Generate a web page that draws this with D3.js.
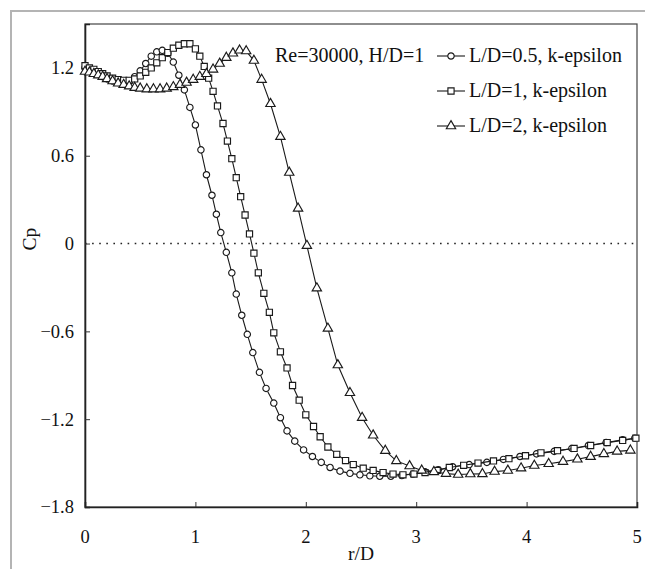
<!DOCTYPE html>
<html lang="en">
<head>
<meta charset="utf-8">
<title>Cp vs r/D</title>
<script src="https://cdn.jsdelivr.net/npm/d3@7"></script>
<style>
    body {
        margin: 0;
        background-color: #ffffff;
    }
    svg text {
        font-family: "Liberation Serif", "Times New Roman", serif;
        fill: #111;
    }
    .series path.line {
        fill: none;
        stroke: #1a1a1a;
        stroke-width: 1.1;
    }
    .mark {
        fill: #fff;
        stroke: #1a1a1a;
        stroke-width: 1.15;
    }
</style>
</head>
<body>
<svg id="chart" width="645" height="569"></svg>
<script>
// r/D , Cp
var circleData = [
  [0, 1.20], [0.04, 1.19], [0.08, 1.18], [0.12, 1.16], [0.16, 1.14], [0.2, 1.125],
  [0.25, 1.11], [0.3, 1.10], [0.35, 1.10], [0.4, 1.11], [0.45, 1.14], [0.5, 1.18],
  [0.55, 1.23], [0.6, 1.28], [0.65, 1.31], [0.7, 1.32], [0.75, 1.30], [0.8, 1.24],
  [0.85, 1.15], [0.9, 1.05], [0.95, 0.93], [1.0, 0.81], [1.05, 0.64], [1.1, 0.47],
  [1.15, 0.33], [1.19, 0.20], [1.23, 0.075], [1.28, -0.06], [1.33, -0.20], [1.37, -0.345],
  [1.42, -0.49], [1.47, -0.62], [1.52, -0.745], [1.58, -0.88], [1.64, -0.99], [1.71, -1.09],
  [1.77, -1.19], [1.83, -1.28], [1.9, -1.35], [1.98, -1.41], [2.06, -1.455], [2.14, -1.495],
  [2.22, -1.53], [2.31, -1.555], [2.4, -1.57], [2.49, -1.58], [2.58, -1.587], [2.67, -1.59],
  [2.77, -1.59], [2.87, -1.585], [2.97, -1.575], [3.08, -1.56], [3.2, -1.545], [3.33, -1.525],
  [3.48, -1.51], [3.64, -1.495], [3.79, -1.475], [3.94, -1.455], [4.09, -1.437], [4.25, -1.42],
  [4.41, -1.40], [4.56, -1.38], [4.72, -1.36], [4.87, -1.34], [4.98, -1.33]
];

var squareData = [
  [0, 1.215], [0.04, 1.20], [0.08, 1.19], [0.12, 1.175], [0.16, 1.16], [0.2, 1.145],
  [0.25, 1.13], [0.3, 1.12], [0.35, 1.115], [0.4, 1.115], [0.45, 1.125], [0.5, 1.145],
  [0.55, 1.17], [0.6, 1.20], [0.65, 1.235], [0.7, 1.27], [0.75, 1.305], [0.8, 1.335],
  [0.85, 1.355], [0.9, 1.365], [0.95, 1.365], [1.0, 1.33], [1.04, 1.28], [1.08, 1.21],
  [1.12, 1.13], [1.16, 1.04], [1.2, 0.94], [1.25, 0.82], [1.29, 0.70], [1.33, 0.58],
  [1.37, 0.45], [1.41, 0.32], [1.45, 0.195], [1.49, 0.066], [1.53, -0.066], [1.57, -0.20],
  [1.62, -0.34], [1.67, -0.47], [1.71, -0.61], [1.77, -0.74], [1.83, -0.85], [1.88, -0.97],
  [1.94, -1.07], [2.0, -1.17], [2.07, -1.25], [2.13, -1.32], [2.2, -1.39], [2.28, -1.44],
  [2.36, -1.483], [2.43, -1.51], [2.52, -1.535], [2.61, -1.55], [2.7, -1.565], [2.79, -1.575],
  [2.88, -1.58], [2.98, -1.575], [3.08, -1.565], [3.19, -1.55], [3.3, -1.53], [3.43, -1.515],
  [3.56, -1.50], [3.7, -1.485], [3.84, -1.47], [3.99, -1.45], [4.13, -1.43], [4.28, -1.415],
  [4.43, -1.40], [4.58, -1.38], [4.73, -1.36], [4.87, -1.345], [4.99, -1.33]
];

var triangleData = [
  [0, 1.175], [0.04, 1.17], [0.08, 1.16], [0.12, 1.15], [0.16, 1.14], [0.2, 1.125],
  [0.25, 1.11], [0.3, 1.095], [0.35, 1.085], [0.4, 1.075], [0.45, 1.065], [0.5, 1.06],
  [0.56, 1.055], [0.62, 1.055], [0.68, 1.055], [0.74, 1.06], [0.8, 1.07], [0.86, 1.085],
  [0.92, 1.10], [0.98, 1.12], [1.04, 1.14], [1.1, 1.16], [1.16, 1.19], [1.22, 1.23],
  [1.28, 1.27], [1.34, 1.30], [1.4, 1.32], [1.46, 1.315], [1.53, 1.25], [1.6, 1.12],
  [1.68, 0.955], [1.77, 0.73], [1.85, 0.485], [1.93, 0.24], [2.01, -0.015], [2.1, -0.305],
  [2.2, -0.58], [2.29, -0.83], [2.4, -1.02], [2.51, -1.19], [2.61, -1.31], [2.72, -1.415],
  [2.82, -1.485], [2.94, -1.52], [3.05, -1.55], [3.16, -1.56], [3.27, -1.572], [3.38, -1.578],
  [3.49, -1.575], [3.6, -1.574], [3.71, -1.558], [3.83, -1.551], [3.95, -1.535], [4.07, -1.517],
  [4.2, -1.505], [4.33, -1.49], [4.46, -1.474], [4.58, -1.456], [4.7, -1.437], [4.82, -1.42],
  [4.94, -1.413]
];

var seriesNames = ["L/D=0.5, k-epsilon", "L/D=1, k-epsilon", "L/D=2, k-epsilon"];
var seriesSymbols = ["circle", "square", "triangle"];
var xTicks = [0, 1, 2, 3, 4, 5];
var yTicks = [-1.8, -1.2, -0.6, 0, 0.6, 1.2];
var noteText = "Re=30000, H/D=1";

var svg = d3.select("#chart");

// outer frame of the original figure
svg.append("rect")
    .attr("x", 11).attr("y", 11)
    .attr("width", 700).attr("height", 600)
    .attr("fill", "none")
    .attr("stroke", "#b4b4b4")
    .attr("stroke-width", 2);

var x = d3.scaleLinear().domain([0, 5]).range([85, 637]);
var y = d3.scaleLinear().domain([-1.8, 1.5]).range([507, 24]);

// plot box
svg.append("rect")
    .attr("x", x(0)).attr("y", y(1.5))
    .attr("width", x(5) - x(0)).attr("height", y(-1.8) - y(1.5))
    .attr("fill", "none")
    .attr("stroke", "#444")
    .attr("stroke-width", 1.2);

// zero line
svg.append("line")
    .attr("x1", x(0)).attr("x2", x(5))
    .attr("y1", y(0)).attr("y2", y(0))
    .attr("stroke", "#222")
    .attr("stroke-width", 1.6)
    .attr("stroke-dasharray", "1.6,5.5");

var fmt = function(d) { return d === 0 ? "0" : d3.format(".1f")(d); };

// y axis - ticks drawn inward
var yAxis = svg.append("g")
    .attr("transform", "translate(" + x(0) + ",0)")
    .call(d3.axisRight(y).tickValues(yTicks).tickSize(5).tickFormat(""));
yAxis.select(".domain").attr("stroke", "#222").attr("stroke-width", 1.6);
yAxis.selectAll(".tick line").attr("stroke", "#333");

svg.append("g").selectAll("text")
    .data(yTicks)
    .join("text")
    .attr("x", x(0) - 11)
    .attr("y", d => y(d))
    .attr("dy", "0.35em")
    .attr("text-anchor", "end")
    .attr("font-size", 18.5)
    .text(fmt);

// x axis - ticks drawn inward
var xAxis = svg.append("g")
    .attr("transform", "translate(0," + y(-1.8) + ")")
    .call(d3.axisTop(x).tickValues(xTicks.slice(1, 5)).tickSize(5).tickFormat(""));
xAxis.select(".domain").attr("stroke", "#222").attr("stroke-width", 1.6);
xAxis.selectAll(".tick line").attr("stroke", "#333");

svg.append("g").selectAll("text")
    .data(xTicks)
    .join("text")
    .attr("x", d => x(d))
    .attr("y", y(-1.8) + 36)
    .attr("text-anchor", "middle")
    .attr("font-size", 18.5)
    .text(d => d);

svg.append("text")
    .attr("x", (x(0) + x(5)) / 2)
    .attr("y", 560)
    .attr("text-anchor", "middle")
    .attr("font-size", 19.5)
    .text("r/D");

svg.append("text")
    .attr("transform", "translate(36," + y(0.03) + ") rotate(-90)")
    .attr("text-anchor", "middle")
    .attr("font-size", 19.5)
    .text("Cp");

var symbolGen = {
    circle: d3.symbol().type(d3.symbolCircle).size(32),
    square: d3.symbol().type(d3.symbolSquare).size(38),
    triangle: d3.symbol().type(d3.symbolTriangle).size(38)
};

var line = d3.line().x(d => x(d[0])).y(d => y(d[1]));

var allData = [circleData, squareData, triangleData];

allData.forEach(function(data, i) {
    var g = svg.append("g").attr("class", "series");
    g.append("path").attr("class", "line").attr("d", line(data));
    g.selectAll("path.mark")
        .data(data)
        .join("path")
        .attr("class", "mark")
        .attr("transform", d => "translate(" + x(d[0]) + "," + y(d[1]) + ")")
        .attr("d", symbolGen[seriesSymbols[i]]);
});

// note + legend
svg.append("text")
    .attr("x", 275)
    .attr("y", 62)
    .attr("font-size", 20)
    .text(noteText);

var legend = svg.append("g").attr("class", "series");
seriesNames.forEach(function(name, i) {
    var ly = 56 + i * 35;
    legend.append("line")
        .attr("x1", 437).attr("x2", 465)
        .attr("y1", ly).attr("y2", ly)
        .attr("stroke", "#1a1a1a")
        .attr("stroke-width", 1.1);
    legend.append("path")
        .attr("class", "mark")
        .attr("transform", "translate(451," + ly + ")")
        .attr("d", symbolGen[seriesSymbols[i]]);
    legend.append("text")
        .attr("x", 469)
        .attr("y", ly + 6)
        .attr("font-size", 20)
        .text(name);
});
</script>
</body>
</html>
